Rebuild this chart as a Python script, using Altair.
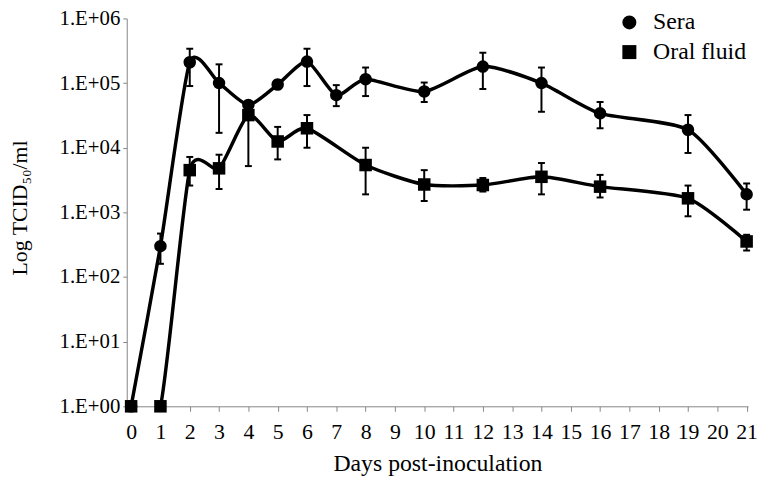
import altair as alt
import pandas as pd

# ---- data (TCID50/ml) ----
sera_days = [0, 1, 2, 3, 4, 5, 6, 7, 8, 10, 12, 14, 16, 19, 21]
sera_mean = [1, 300, 210000, 100000, 46000, 95000, 215000, 65000, 115000, 74000, 180000, 100000, 34000, 19000, 1900]
sera_low = [1, 160, 90000, 17000, 40000, 83000, 90000, 44000, 63000, 51000, 81000, 36000, 20000, 8300, 1100]
sera_high = [1, 470, 340000, 195000, 52000, 110000, 340000, 93000, 174000, 102000, 295000, 174000, 51000, 32000, 2800]

oral_days = [0, 1, 2, 3, 4, 5, 6, 8, 10, 12, 14, 16, 19, 21]
oral_mean = [1, 1, 4500, 4800, 32000, 12500, 20000, 5400, 2700, 2650, 3550, 2500, 1650, 355]
oral_low = [1, 1, 2600, 2300, 5200, 6600, 10000, 1900, 1500, 2100, 1900, 1700, 870, 257]
oral_high = [1, 1, 7200, 7800, 45000, 21000, 32000, 10000, 4500, 3400, 5800, 3800, 2600, 450]

series_names = ["Sera", "Oral fluid"]
x_ticks = list(range(0, 22))
y_ticks = [1, 10, 100, 1000, 10000, 100000, 1000000]

rows = []
for d, m, lo, hi in zip(sera_days, sera_mean, sera_low, sera_high):
    rows.append({"series": "Sera", "order": 0, "day": d, "mean": m, "lo": lo, "hi": hi})
for d, m, lo, hi in zip(oral_days, oral_mean, oral_low, oral_high):
    rows.append({"series": "Oral fluid", "order": 1, "day": d, "mean": m, "lo": lo, "hi": hi})
df = pd.DataFrame(rows)

FONT = "Liberation Serif"

x_axis = alt.Axis(
    values=x_ticks, title="Days post-inoculation", labelFont=FONT, labelFontSize=22,
    labelPadding=11, tickSize=5, titleX=314, titleY=58, titleBaseline="middle",
    titleFont=FONT, titleFontSize=24, labelFlush=False, labelOverlap=False,
    grid=False, domainColor="#868686", tickColor="#868686", labelColor="black",
)
y_axis = alt.Axis(
    values=y_ticks, title="Log TCID₅₀/ml",
    labelExpr="'1.E+0' + round(log(datum.value) / LN10)",
    labelFont=FONT, labelFontSize=21, labelPadding=3, tickSize=4,
    titleX=-108, titleY=191, titleBaseline="middle", titleFont=FONT, titleFontSize=22,
    grid=False, domainColor="#868686", tickColor="#868686", labelColor="black",
    labelOverlap=False,
)
x_scale = alt.Scale(domain=[-0.15, 21.05], nice=False, zero=False)
y_scale = alt.Scale(type="log", domain=[1, 1000000], nice=False)

base = alt.Chart(df).encode(x=alt.X("day:Q", scale=x_scale, axis=x_axis))

lines = base.mark_line(
    interpolate="cardinal", tension=0.35, strokeWidth=3.5, color="black", clip=True
).encode(y=alt.Y("mean:Q", scale=y_scale, axis=y_axis), detail="series:N")

err = base.mark_rule(strokeWidth=2, color="black").encode(
    y=alt.Y("lo:Q", scale=y_scale, axis=y_axis), y2="hi:Q"
)
cap_lo = base.mark_tick(orient="horizontal", size=7, thickness=2, color="black", opacity=1).encode(
    y=alt.Y("lo:Q", scale=y_scale, axis=y_axis)
)
cap_hi = base.mark_tick(orient="horizontal", size=7, thickness=2, color="black", opacity=1).encode(
    y=alt.Y("hi:Q", scale=y_scale, axis=y_axis)
)

points = base.mark_point(filled=True, size=160, opacity=1, color="black").encode(
    y=alt.Y("mean:Q", scale=y_scale, axis=y_axis),
    order="order:Q",
    shape=alt.Shape(
        "series:N",
        scale=alt.Scale(domain=series_names, range=["circle", "square"]),
        legend=alt.Legend(
            title=None, orient="none", legendX=496, legendY=-8,
            labelFont=FONT, labelFontSize=24, labelOffset=12, labelColor="black",
            symbolSize=200, symbolFillColor="black", symbolStrokeWidth=0,
            rowPadding=6, padding=0,
        ),
    ),
)

chart = (
    alt.layer(lines, err, cap_lo, cap_hi, points)
    .properties(
        width=628, height=392,
        padding={"left": 120, "top": 8, "right": 9, "bottom": 79},
        autosize=alt.AutoSizeParams(type="none"),
    )
    .configure_view(stroke=None)
    .configure_axis(
        grid=False, labelFont=FONT, titleFont=FONT, labelColor="black", titleColor="black",
        titleFontWeight="normal", domainColor="#868686", tickColor="#868686",
    )
    .configure_legend(labelFont=FONT, labelFontSize=24)
)

chart.save("out.html", embed_options={"renderer": "svg", "actions": False})
